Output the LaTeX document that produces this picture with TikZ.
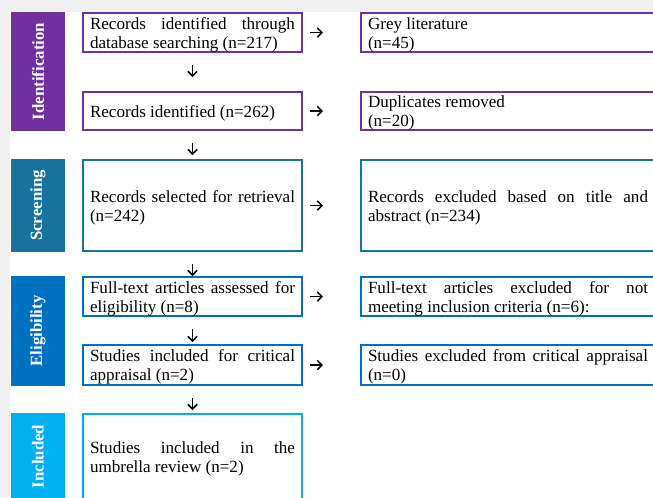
\documentclass[tikz,border=0pt]{standalone}
\usepackage{fontspec}
\setmainfont{Liberation Serif}
\usepackage{xcolor}
\usepackage{tikz}
\usetikzlibrary{
    arrows.meta,
    positioning,
    calc,
    fit
}
\definecolor{idpurple}{HTML}{7030A0}
\definecolor{scrteal}{HTML}{17739E}
\definecolor{eligblue}{HTML}{0070C0}
\definecolor{inclcyan}{HTML}{00B0F0}
\definecolor{pagegray}{HTML}{F0F0F0}
\hyphenpenalty=10000
\exhyphenpenalty=10000
\tolerance=10000
\hbadness=10000
\tikzset{
    recordbox/.style={
        draw,
        line width=1.5pt,
        text width=153.75pt,
        inner xsep=5.25pt,
        inner ysep=0pt,
        align=justify,
        fill=white,
        execute at begin node={\rule{0pt}{12pt}}
    }
}
\tikzset{
    excludebox/.style={
        recordbox,
        text width=210pt
    }
}
\tikzset{
    stagebar/.style={
        inner sep=0pt,
        fill=#1
    }
}
\tikzset{
    stagelabel/.style={
        rotate=90,
        text=white,
        font=\fontsize{12.6}{14}\selectfont\bfseries
    }
}
\tikzset{
    flowarrow/.style={
        draw=black,
        line width=1.1pt,
        -{Straight Barb[length=3.5pt,width=7pt]}
    }
}
\tikzset{
    stepdown/.style={
        flowarrow,
        shorten <=9pt
    }
}
\tikzset{
    stepright/.style={
        flowarrow,
        shorten <=5.25pt,
        shorten >=27.75pt
    }
}

\begin{document}
\begin{tikzpicture}[
    font=\fontsize{12.8}{14.25}\selectfont
]

\useasboundingbox (0,0) rectangle (489.75pt,-372.75pt);
\clip (0,0) rectangle (489.75pt,-372.75pt);
\fill[pagegray] (0,0) rectangle (489.75pt,-372.75pt);
\fill[white] (7.5pt,-9pt) rectangle (489.75pt,-372.75pt);

\node[recordbox, draw=idpurple, minimum height=29.25pt, anchor=north west] (dbsearch) at (61.5pt,-9pt)
    {Records identified through\linebreak database searching (n=217)};
\node[recordbox, draw=idpurple, minimum height=28.5pt, below=28.5pt of dbsearch] (identified)
    {Records identified (n=262)};
\node[recordbox, draw=scrteal, minimum height=68.25pt, below=21pt of identified] (retrieval)
    {Records selected for retrieval\linebreak (n=242)};
\node[recordbox, draw=eligblue, minimum height=29.25pt, below=18pt of retrieval] (fulltext)
    {Full-text articles assessed for\linebreak eligibility (n=8)};
\node[recordbox, draw=eligblue, minimum height=30pt, below=20.25pt of fulltext] (appraisal)
    {Studies included for critical\linebreak appraisal (n=2)};
\node[recordbox, draw=inclcyan, minimum height=63.75pt, below=20.25pt of appraisal] (included)
    {Studies included in the\linebreak umbrella review (n=2)};

\node[excludebox, draw=idpurple, minimum height=29.25pt, right=42.75pt of dbsearch] (grey)
    {Grey literature\\(n=45)};
\node[excludebox, draw=idpurple, minimum height=28.5pt, right=42.75pt of identified] (duplicates)
    {Duplicates removed\\(n=20)};
\node[excludebox, draw=scrteal, minimum height=68.25pt, right=42.75pt of retrieval] (titleabs)
    {Records excluded based on title and\linebreak abstract (n=234)};
\node[excludebox, draw=eligblue, minimum height=29.25pt, right=42.75pt of fulltext] (notmeeting)
    {Full-text articles excluded for not\linebreak meeting inclusion criteria (n=6):};
\node[excludebox, draw=eligblue, minimum height=30pt, right=42.75pt of appraisal] (notappraised)
    {Studies excluded from critical appraisal\linebreak (n=0)};

\node[stagebar=idpurple, fit={($(dbsearch.north west)+(-53.25pt,0)$) ($(identified.south west)+(-12.75pt,0)$)}] (identbar) {};
\node[stagelabel] at (identbar) {Identification};
\node[stagebar=scrteal, fit={($(retrieval.north west)+(-53.25pt,0)$) ($(retrieval.south west)+(-12.75pt,0)$)}] (screenbar) {};
\node[stagelabel] at (screenbar) {Screening};
\node[stagebar=eligblue, fit={($(fulltext.north west)+(-53.25pt,0)$) ($(appraisal.south west)+(-12.75pt,0)$)}] (eligbar) {};
\node[stagelabel] at (eligbar) {Eligibility};
\node[stagebar=inclcyan, fit={($(included.north west)+(-53.25pt,0)$) ($(included.south west)+(-12.75pt,0)$)}] (inclbar) {};
\node[stagelabel] at (inclbar) {Included};

\draw[stepdown, shorten >=10.5pt] (dbsearch) -- (identified);
\draw[stepdown, shorten >=3pt] (identified) -- (retrieval);
\draw[stepdown, shorten >=0pt] (retrieval) -- (fulltext);
\draw[stepdown, shorten >=1.5pt] (fulltext) -- (appraisal);
\draw[stepdown, shorten >=2.25pt] (appraisal) -- (included);

\draw[stepright] (dbsearch) -- (grey);
\draw[stepright] (identified) -- (duplicates);
\draw[stepright] (retrieval) -- (titleabs);
\draw[stepright] (fulltext) -- (notmeeting);
\draw[stepright] (appraisal) -- (notappraised);

\end{tikzpicture}
\end{document}
